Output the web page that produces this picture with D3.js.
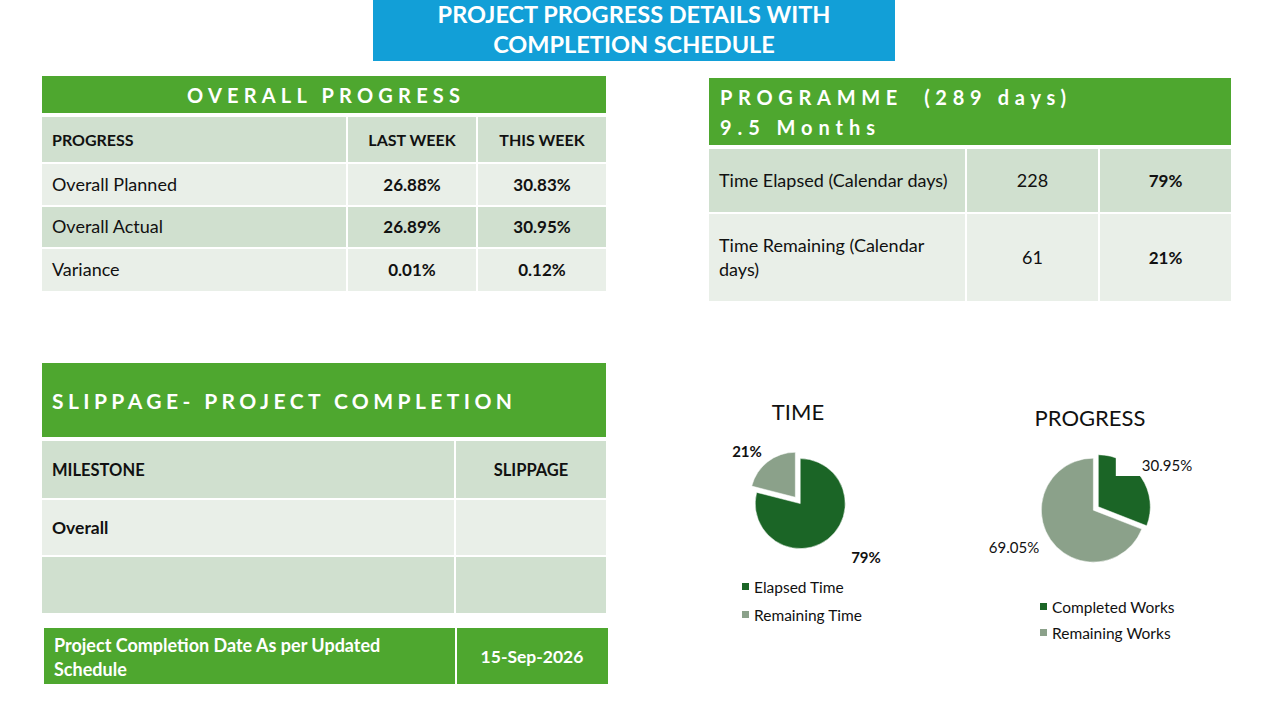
<!DOCTYPE html>
<html>
<head>
<meta charset="utf-8">
<script src="https://cdn.jsdelivr.net/npm/d3@7"></script>
<style>
  html, body { margin: 0; padding: 0; background: #fff; }
  svg { display: block; font-family: Lato, "Open Sans", sans-serif; }
</style>
</head>
<body>
<svg id="chart" width="1278" height="707"></svg>
<script>
// ---------------- DATA ----------------
const titleLines = ["PROJECT PROGRESS DETAILS WITH", "COMPLETION SCHEDULE"];

const overallHeader = ["PROGRESS", "LAST WEEK", "THIS WEEK"];
const overallLabels = ["Overall Planned", "Overall Actual", "Variance"];
const overallLastWeek = ["26.88%", "26.89%", "0.01%"];
const overallThisWeek = ["30.83%", "30.95%", "0.12%"];

const programmeTitle = ["PROGRAMME  (289 days)", "9.5 Months"];
const programmeLabels = [["Time Elapsed (Calendar days)"], ["Time Remaining (Calendar", "days)"]];
const programmeDays = [228, 61];
const programmePct = ["79%", "21%"];

const slippageHeader = ["MILESTONE", "SLIPPAGE"];
const slippageRows = [["Overall", ""], ["", ""]];
const completionLabel = ["Project Completion Date As per Updated", "Schedule"];
const completionDate = "15-Sep-2026";

const timeCategories = ["Elapsed Time", "Remaining Time"];
const timeValues = [79, 21];
const progressCategories = ["Completed Works", "Remaining Works"];
const progressValues = [30.95, 69.05];

// ---------------- STYLE ----------------
const C = {
  blue: "#129FD7",
  green: "#4EA72F",
  rowDark: "#D0E0CF",
  rowLight: "#E9EFE8",
  pieDark: "#1B6526",
  pieLight: "#8BA18A",
  text: "#111"
};
const REG = 18, BOLD = 16.5;

const svg = d3.select("#chart");

// ---------------- TITLE ----------------
svg.append("rect").attr("x", 373).attr("y", 0).attr("width", 522).attr("height", 61).attr("fill", C.blue);
svg.selectAll("text.title").data(titleLines).join("text")
  .attr("x", 634).attr("y", (d, i) => 23 + i * 30)
  .attr("text-anchor", "middle").attr("fill", "#fff")
  .attr("font-size", 23.5).attr("font-weight", 700)
  .text(d => d);

function cells(g, rows) {
  g.selectAll("rect.cell").data(rows).join("rect")
    .attr("x", d => d.x).attr("y", d => d.y).attr("width", d => d.w).attr("height", d => d.h)
    .attr("fill", d => d.fill);
}

// ---------------- OVERALL PROGRESS TABLE ----------------
{
  const g = svg.append("g");
  g.append("rect").attr("x", 42).attr("y", 76).attr("width", 564).attr("height", 37).attr("fill", C.green);
  g.append("text").attr("x", 187).attr("y", 103).attr("fill", "#fff")
    .attr("font-size", 20).attr("font-weight", 700)
    .attr("textLength", 273).attr("lengthAdjust", "spacing")
    .text("OVERALL PROGRESS");

  const colX = [42, 348, 478];
  const colW = [304, 128, 128];
  const rowY = [117, 164, 207, 249];
  const rowH = [45, 41, 40, 42];
  const rowFill = [C.rowDark, C.rowLight, C.rowDark, C.rowLight];
  const tbl = [overallHeader].concat(overallLabels.map((l, i) => [l, overallLastWeek[i], overallThisWeek[i]]));
  const cellData = [];
  tbl.forEach((row, r) => row.forEach((t, c) => cellData.push({
    x: colX[c], y: rowY[r], w: colW[c], h: rowH[r], fill: rowFill[r], t, r, c
  })));
  cells(g, cellData);
  g.selectAll("text.cell").data(cellData).join("text")
    .attr("x", d => d.c === 0 ? d.x + 10 : d.x + d.w / 2)
    .attr("y", d => d.y + d.h / 2 + 6)
    .attr("text-anchor", d => d.c === 0 ? "start" : "middle")
    .attr("font-size", d => (d.r === 0) ? 16 : (d.c > 0 ? 17 : REG))
    .attr("font-weight", d => (d.r === 0 || d.c > 0) ? 700 : 400)
    .attr("fill", C.text)
    .text(d => d.t);
}

// ---------------- PROGRAMME TABLE ----------------
{
  const g = svg.append("g");
  g.append("rect").attr("x", 709).attr("y", 78).attr("width", 522).attr("height", 67).attr("fill", C.green);
  g.append("text").attr("x", 720).attr("y", 105).attr("fill", "#fff")
    .attr("font-size", 20).attr("font-weight", 700)
    .attr("textLength", 346).attr("lengthAdjust", "spacing").attr("xml:space", "preserve")
    .text(programmeTitle[0]);
  g.append("text").attr("x", 720).attr("y", 135).attr("fill", "#fff")
    .attr("font-size", 20).attr("font-weight", 700)
    .attr("textLength", 155).attr("lengthAdjust", "spacing")
    .text(programmeTitle[1]);

  const colX = [709, 967, 1100];
  const colW = [256, 131, 131];
  const rowY = [149, 214];
  const rowH = [63, 87];
  const rowFill = [C.rowDark, C.rowLight];
  const cellData = [];
  programmeLabels.forEach((lab, r) => {
    [lab, [String(programmeDays[r])], [programmePct[r]]].forEach((t, c) => cellData.push({
      x: colX[c], y: rowY[r], w: colW[c], h: rowH[r], fill: rowFill[r], t, r, c
    }));
  });
  cells(g, cellData);
  cellData.forEach(d => {
    const n = d.t.length;
    d.t.forEach((line, li) => {
      g.append("text")
        .attr("x", d.c === 0 ? d.x + 10 : d.x + d.w / 2)
        .attr("y", d.y + d.h / 2 + 6 + (li - (n - 1) / 2) * 24)
        .attr("text-anchor", d.c === 0 ? "start" : "middle")
        .attr("font-size", d.c === 2 ? 17 : REG)
        .attr("font-weight", d.c === 2 ? 700 : 400)
        .attr("fill", C.text)
        .text(line);
    });
  });
}

// ---------------- SLIPPAGE TABLE ----------------
{
  const g = svg.append("g");
  g.append("rect").attr("x", 42).attr("y", 363).attr("width", 564).attr("height", 74).attr("fill", C.green);
  g.append("text").attr("x", 52).attr("y", 409).attr("fill", "#fff")
    .attr("font-size", 21).attr("font-weight", 700)
    .attr("textLength", 460).attr("lengthAdjust", "spacing")
    .text("SLIPPAGE- PROJECT COMPLETION");

  const colX = [42, 456];
  const colW = [412, 150];
  const rowY = [441, 500, 557];
  const rowH = [57, 55, 56];
  const rowFill = [C.rowDark, C.rowLight, C.rowDark];
  const tbl = [slippageHeader].concat(slippageRows);
  const cellData = [];
  tbl.forEach((row, r) => row.forEach((t, c) => cellData.push({
    x: colX[c], y: rowY[r], w: colW[c], h: rowH[r], fill: rowFill[r], t, r, c
  })));
  cells(g, cellData);
  g.selectAll("text.cell").data(cellData.filter(d => d.t)).join("text")
    .attr("x", d => d.c === 0 ? d.x + 10 : d.x + d.w / 2)
    .attr("y", d => d.y + d.h / 2 + 6)
    .attr("text-anchor", d => d.c === 0 ? "start" : "middle")
    .attr("font-size", d => d.r === 0 ? 16.5 : 17.5).attr("font-weight", 700).attr("fill", C.text)
    .text(d => d.t);

  g.append("rect").attr("x", 44).attr("y", 628).attr("width", 411).attr("height", 56).attr("fill", C.green);
  g.append("rect").attr("x", 457).attr("y", 628).attr("width", 151).attr("height", 56).attr("fill", C.green);
  completionLabel.forEach((l, i) => {
    g.append("text").attr("x", 54).attr("y", 652 + i * 24).attr("fill", "#fff")
      .attr("font-size", 18).attr("font-weight", 700).text(l);
  });
  g.append("text").attr("x", 532).attr("y", 663).attr("text-anchor", "middle").attr("fill", "#fff")
    .attr("font-size", 17.5).attr("font-weight", 700).text(completionDate);
}

// ---------------- PIES ----------------
function drawPie(cfg) {
  const g = svg.append("g").attr("transform", `translate(${cfg.cx},${cfg.cy})`);
  const pie = d3.pie().sort(null).value(d => d.v);
  const arc = d3.arc().innerRadius(0).outerRadius(cfg.r);
  const color = d3.scaleOrdinal().domain(cfg.cats).range([C.pieDark, C.pieLight]);
  const arcs = pie(cfg.cats.map((c, i) => ({ c, v: cfg.vals[i], i })));
  g.selectAll("path").data(arcs).join("path")
    .attr("transform", d => {
      const a = (d.startAngle + d.endAngle) / 2;
      const off = cfg.offsets[d.index];
      return `translate(${Math.sin(a) * off},${-Math.cos(a) * off})`;
    })
    .attr("d", arc)
    .attr("fill", d => color(d.data.c))
    .attr("stroke", "#fff").attr("stroke-width", 0.5);

  arcs.forEach((d, i) => {
    const lp = cfg.labelPos[i];
    const t = g.append("text").attr("x", lp[0]).attr("y", lp[1])
      .attr("text-anchor", "middle").attr("font-size", 15)
      .attr("font-weight", cfg.boldLabels ? 700 : 400).attr("fill", C.text)
      .text(cfg.labelText(d));
    if (cfg.labelPad && cfg.labelPad[i]) {
      const p = cfg.labelPad[i];
      const bb = t.node().getBBox();
      g.insert("rect", "text").attr("x", bb.x - p[0]).attr("y", bb.y - p[1])
        .attr("width", bb.width + p[0] + p[2]).attr("height", bb.height + p[1] + p[3]).attr("fill", "#fff");
    }
  });

  svg.append("text").attr("x", cfg.titleX).attr("y", cfg.titleY).attr("text-anchor", "middle")
    .attr("font-size", 22).attr("fill", C.text).text(cfg.title);

  const lg = svg.append("g").attr("transform", `translate(${cfg.legX},${cfg.legY})`);
  const items = lg.selectAll("g").data(cfg.cats).join("g")
    .attr("transform", (d, i) => `translate(0,${i * cfg.legStep})`);
  items.append("rect").attr("x", 0).attr("y", -10).attr("width", 7).attr("height", 7)
    .attr("fill", d => color(d));
  items.append("text").attr("x", 12).attr("y", 0).attr("font-size", 15.5).attr("fill", C.text).text(d => d);
}

drawPie({
  cx: 799, cy: 502, r: 45,
  cats: timeCategories, vals: timeValues,
  offsets: [2, 6],
  labelPos: [[67, 61], [-52, -45]],
  labelText: d => d.data.v + "%",
  boldLabels: true,
  title: "TIME", titleX: 798, titleY: 420,
  legX: 742, legY: 593, legStep: 28
});

drawPie({
  cx: 1095, cy: 509, r: 52,
  cats: progressCategories, vals: progressValues,
  offsets: [4, 2],
  labelPos: [[72, -38], [-81, 44]],
  labelText: d => d.data.v.toFixed(2) + "%",
  labelPad: [[26, 6, 8, 2], null],
  boldLabels: false,
  title: "PROGRESS", titleX: 1090, titleY: 426,
  legX: 1040, legY: 613, legStep: 26
});
</script>
</body>
</html>
